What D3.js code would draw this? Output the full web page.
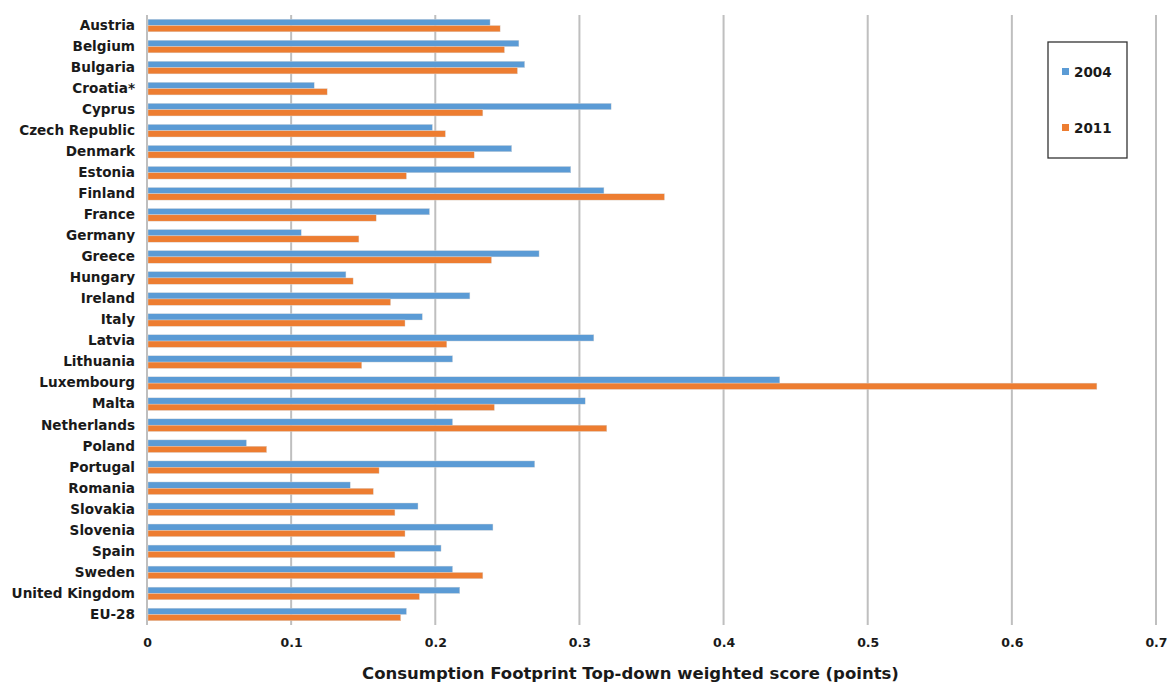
<!DOCTYPE html>
<html>
<head>
<meta charset="utf-8">
<script src="https://cdn.jsdelivr.net/npm/d3@7"></script>
<style>
  html, body { margin: 0; padding: 0; background: #fff; }
  svg { display: block; }
  text { font-family: "DejaVu Sans", Verdana, sans-serif; font-weight: bold; fill: #1a1a1a; }
</style>
</head>
<body>
<svg id="chart" width="1171" height="682"></svg>
<script>
const categories = ["Austria","Belgium","Bulgaria","Croatia*","Cyprus","Czech Republic","Denmark","Estonia","Finland","France","Germany","Greece","Hungary","Ireland","Italy","Latvia","Lithuania","Luxembourg","Malta","Netherlands","Poland","Portugal","Romania","Slovakia","Slovenia","Spain","Sweden","United Kingdom","EU-28"];
const values2004 = [0.238,0.258,0.262,0.116,0.322,0.198,0.253,0.294,0.317,0.196,0.107,0.272,0.138,0.224,0.191,0.310,0.212,0.439,0.304,0.212,0.069,0.269,0.141,0.188,0.240,0.204,0.212,0.217,0.180];
const values2011 = [0.245,0.248,0.257,0.125,0.233,0.207,0.227,0.180,0.359,0.159,0.147,0.239,0.143,0.169,0.179,0.208,0.149,0.659,0.241,0.319,0.083,0.161,0.157,0.172,0.179,0.172,0.233,0.189,0.176];
const seriesNames = ["2004","2011"];
const xTicks = [0,0.1,0.2,0.3,0.4,0.5,0.6,0.7];
const xTitle = "Consumption Footprint Top-down weighted score (points)";
const colors = ["#5B9BD5","#ED7D31"];

const svg = d3.select("#chart");
const W = 1171, H = 682;
const margin = {left: 147, right: W - 1156, top: 15, bottom: H - 625};

const x = d3.scaleLinear().domain([0, 0.7]).range([margin.left, W - margin.right]);
const y = d3.scaleBand().domain(categories).range([margin.top, H - margin.bottom]).paddingInner(0.4).paddingOuter(0.2);
const ySub = d3.scaleBand().domain(seriesNames).range([0, y.bandwidth()]);

// gridlines
svg.append("g").selectAll("line").data(xTicks).join("line")
  .attr("x1", d => x(d)).attr("x2", d => x(d))
  .attr("y1", margin.top).attr("y2", H - margin.bottom)
  .attr("stroke", "#BFBFBF").attr("stroke-width", 2);

const data = categories.map((c, i) => ({cat: c, vals: [values2004[i], values2011[i]]}));

const groups = svg.append("g").selectAll("g").data(data).join("g")
  .attr("transform", d => `translate(0,${y(d.cat)})`);
groups.selectAll("rect").data(d => d.vals.map((v, k) => ({k, v}))).join("rect")
  .attr("x", x(0) + 1)
  .attr("y", d => ySub(seriesNames[d.k]))
  .attr("width", d => x(d.v) - x(0) - 1)
  .attr("height", ySub.bandwidth())
  .attr("fill", d => colors[d.k])
  .attr("stroke", "#d9d9d9").attr("stroke-width", 0.4);

// y axis labels
const yAxis = d3.axisLeft(y).tickSize(0).tickPadding(12);
const gy = svg.append("g").attr("transform", `translate(${x(0)},0)`).call(yAxis);
gy.select(".domain").remove();
gy.selectAll("text").attr("font-size", 13.6).style("font-family", '"DejaVu Sans", Verdana, sans-serif').style("font-weight", "bold").attr("fill", "#1a1a1a");

// x axis labels
const xAxis = d3.axisBottom(x).tickValues(xTicks).tickSize(0).tickPadding(13).tickFormat(d => d === 0 ? "0" : d3.format(".1f")(d));
const gx = svg.append("g").attr("transform", `translate(0,${H - margin.bottom})`).call(xAxis);
gx.select(".domain").remove();
gx.selectAll("text").attr("font-size", 12.5).style("font-family", '"DejaVu Sans", Verdana, sans-serif').style("font-weight", "bold").attr("fill", "#1a1a1a");

// x title
svg.append("text").attr("x", (x(0) + x(0.7)) / 2 - 21).attr("y", 679)
  .attr("text-anchor", "middle").attr("font-size", 16.5).text(xTitle);

// legend
const lg = svg.append("g").attr("transform", "translate(1048,42)");
lg.append("rect").attr("width", 79).attr("height", 116).attr("fill", "#fff").attr("stroke", "#333").attr("stroke-width", 1.3);
seriesNames.forEach((s, i) => {
  const yy = 30 + i * 56;
  lg.append("rect").attr("x", 14).attr("y", yy - 4).attr("width", 7).attr("height", 7).attr("fill", colors[i]);
  lg.append("text").attr("x", 26).attr("y", yy + 5).attr("font-size", 13.5).text(s);
});
</script>
</body>
</html>
